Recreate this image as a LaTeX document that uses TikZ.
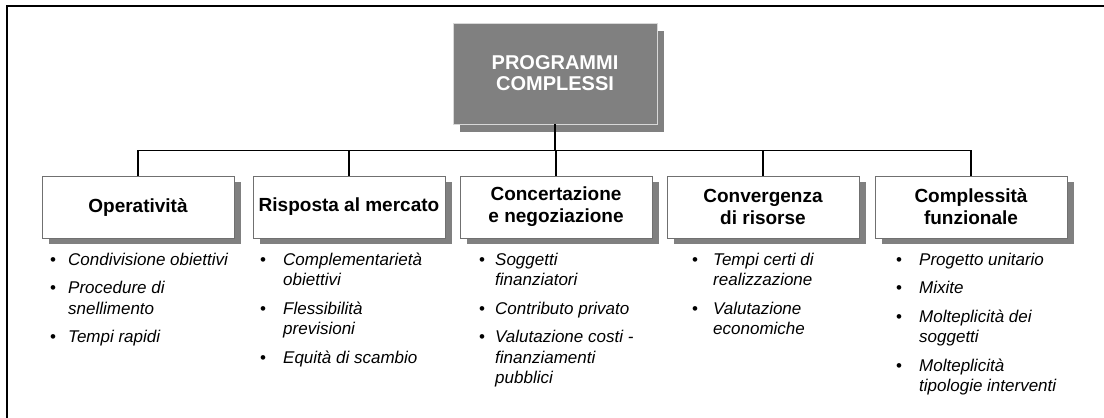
\documentclass[tikz,border=0pt]{standalone}
\usepackage{fontspec}
\setmainfont{Liberation Sans}
\usetikzlibrary{shadows}
\definecolor{shgray}{HTML}{808080}
\definecolor{bordgray}{HTML}{707070}
\definecolor{rootbord}{HTML}{D8D8D8}
\newlength\bulw
\newcommand\bul{\makebox[\bulw][l]{\upshape\textbullet}}
\tikzset{
  rootbox/.style={rectangle, minimum width=204pt, minimum height=101pt, inner sep=0pt,
    fill=shgray, draw=rootbord, line width=0.8pt, text=white, align=center,
    font=\bfseries\fontsize{20}{21}\selectfont,
    drop shadow={shadow xshift=7pt, shadow yshift=-8pt, fill=shgray, opacity=1}},
  childbox/.style={rectangle, minimum width=192pt, minimum height=62pt, inner sep=0pt,
    fill=white, draw=bordgray, line width=0.9pt, align=center,
    font=\bfseries\fontsize{19}{22}\selectfont,
    drop shadow={shadow xshift=7pt, shadow yshift=-6pt, fill=shgray, opacity=1}},
  conn/.style={draw=black, line width=1.3pt},
  lst/.style={inner sep=0pt, anchor=base west, font=\itshape\fontsize{17}{20.5}\selectfont},
  frame/.style={line width=2pt}
}
\begin{document}
\begin{tikzpicture}[x=1pt,y=-1pt]
\useasboundingbox (0,0) rectangle (1104,418);
\draw[frame] (7,418) -- (7,6) -- (1104,6);

\node[rootbox] (root) at (555,73.5) {PROGRAMMI\\COMPLESSI};

\node[childbox] (c1) at (138,207) {Operatività};
\node[childbox] (c2) at (349,207) {Risposta al mercato};
\node[childbox] (c3) at (556,207) {Concertazione\\e negoziazione};
\node[childbox] (c4) at (763,207) {Convergenza\\di risorse};
\node[childbox] (c5) at (971,207) {Complessità\\funzionale};

\foreach \c in {c1,c2,c3,c4,c5}
  \draw[conn] (root.south) -- ++(0,26) -| (\c.north);

\node[lst] (l1) at (50,265) {\setlength\bulw{18pt}\begin{tabular}[t]{@{}l@{}l@{}}
\bul & Condivisione obiettivi\\[8pt]
\bul & Procedure di\\
     & snellimento\\[8pt]
\bul & Tempi rapidi
\end{tabular}};

\node[lst] (l2) at (260,265) {\setlength\bulw{23pt}\begin{tabular}[t]{@{}l@{}l@{}}
\bul & Complementarietà\\
     & obiettivi\\[8pt]
\bul & Flessibilità\\
     & previsioni\\[8pt]
\bul & Equità di scambio
\end{tabular}};

\node[lst] (l3) at (479,265) {\setlength\bulw{16pt}\begin{tabular}[t]{@{}l@{}l@{}}
\bul & Soggetti\\
     & finanziatori\\[8pt]
\bul & Contributo privato\\[8pt]
\bul & Valutazione costi -\\
     & finanziamenti\\
     & pubblici
\end{tabular}};

\node[lst] (l4) at (692,265) {\setlength\bulw{21pt}\begin{tabular}[t]{@{}l@{}l@{}}
\bul & Tempi certi di\\
     & realizzazione\\[8pt]
\bul & Valutazione\\
     & economiche
\end{tabular}};

\node[lst] (l5) at (896,265) {\setlength\bulw{23pt}\begin{tabular}[t]{@{}l@{}l@{}}
\bul & Progetto unitario\\[8pt]
\bul & Mixite\\[8pt]
\bul & Molteplicità dei\\
     & soggetti\\[8pt]
\bul & Molteplicità\\
     & tipologie interventi
\end{tabular}};
\end{tikzpicture}
\end{document}
